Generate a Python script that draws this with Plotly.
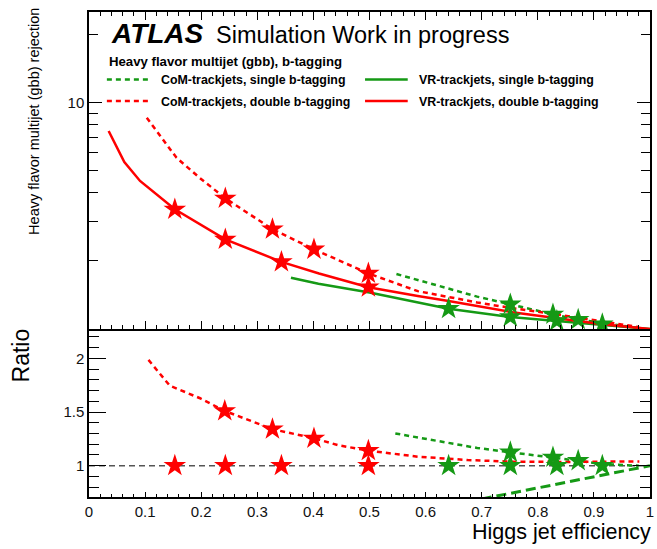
import plotly.graph_objects as go

# ---------------- data ----------------
# Top panel: rejection vs Higgs jet efficiency
vr_double_x = [0.035, 0.063, 0.091, 0.153, 0.243, 0.343, 0.41, 0.498, 0.586, 0.641, 0.751, 0.834, 0.915, 1.0]
vr_double_y = [7.5, 5.47, 4.51, 3.38, 2.49, 1.98, 1.76, 1.53, 1.40, 1.33, 1.19, 1.12, 1.05, 1.0]
com_double_x = [0.103, 0.156, 0.197, 0.243, 0.327, 0.401, 0.498, 0.586, 0.692, 0.751, 0.834, 0.915, 0.98]
com_double_y = [8.58, 5.71, 4.66, 3.78, 2.76, 2.25, 1.76, 1.47, 1.31, 1.24, 1.16, 1.08, 1.02]
vr_single_x = [0.36, 0.409, 0.5, 0.641, 0.751, 0.834, 0.915, 1.0]
vr_single_y = [1.686, 1.585, 1.45, 1.23, 1.13, 1.085, 1.05, 1.0]
com_single_x = [0.548, 0.692, 0.751, 0.827, 0.872, 0.915, 0.98]
com_single_y = [1.75, 1.39, 1.286, 1.16, 1.10, 1.06, 1.01]

# star working points (top panel)
vr_double_star_x = [0.153, 0.243, 0.343, 0.498]
vr_double_star_y = [3.38, 2.49, 1.98, 1.53]
com_double_star_x = [0.243, 0.327, 0.401, 0.498]
com_double_star_y = [3.78, 2.76, 2.25, 1.76]
vr_single_star_x = [0.641, 0.751, 0.834, 0.915]
vr_single_star_y = [1.23, 1.13, 1.085, 1.05]
com_single_star_x = [0.751, 0.827, 0.872]
com_single_star_y = [1.286, 1.16, 1.10]

# Bottom panel: ratio
ratio_double_x = [0.106, 0.144, 0.198, 0.242, 0.327, 0.401, 0.445, 0.498, 0.586, 0.675, 0.75, 0.85, 0.981]
ratio_double_y = [1.985, 1.745, 1.628, 1.51, 1.34, 1.255, 1.19, 1.14, 1.084, 1.053, 1.038, 1.035, 1.04]
ratio_single_x = [0.546, 0.692, 0.751, 0.827, 0.872, 0.915, 0.98]
ratio_single_y = [1.30, 1.165, 1.125, 1.078, 1.046, 1.015, 1.0]
ratio_extra_x = [0.70, 1.0]
ratio_extra_y = [0.69, 1.0]
unity_x = [0.0, 1.0]
unity_y = [1.0, 1.0]

ratio_double_star_x = [0.242, 0.327, 0.401, 0.498]
ratio_double_star_y = [1.51, 1.34, 1.255, 1.14]
ratio_single_star_x = [0.751, 0.827, 0.872]
ratio_single_star_y = [1.125, 1.078, 1.046]
ref_double_star_x = [0.153, 0.243, 0.343, 0.498]
ref_single_star_x = [0.641, 0.751, 0.834, 0.915]

x_tick_vals = [0, 0.1, 0.2, 0.3, 0.4, 0.5, 0.6, 0.7, 0.8, 0.9, 1]
x_tick_text = ["0", "0.1", "0.2", "0.3", "0.4", "0.5", "0.6", "0.7", "0.8", "0.9", "1"]

legend_labels = ["CoM-trackjets, single b-tagging", "CoM-trackjets, double b-tagging",
                 "VR-trackjets, single b-tagging", "VR-trackjets, double b-tagging"]

# ---------------- style ----------------
RED = "#ff0000"
GREEN = "#159915"
FONT = "Liberation Sans, Arial, Helvetica, sans-serif"
W, H = 657, 549
L, R, T, B = 89, 3, 12, 52
PW, PH = W - L - R, H - T - B
SPLIT = 329  # pixel row between the two panels


def pxx(px):
    return (px - L) / PW


def pxy(py):
    return (H - B - py) / PH


split_frac = pxy(SPLIT)

fig = go.Figure()


def line(x, y, color, dash, width, xa, ya):
    fig.add_trace(go.Scatter(x=x, y=y, mode="lines", xaxis=xa, yaxis=ya,
                             line=dict(color=color, dash=dash, width=width),
                             showlegend=False, hoverinfo="skip"))


def stars(x, y, color, xa, ya):
    fig.add_trace(go.Scatter(x=x, y=y, mode="markers", xaxis=xa, yaxis=ya,
                             marker=dict(symbol="star", size=17, color=color,
                                         line=dict(width=0)),
                             showlegend=False, hoverinfo="skip"))


DASH = "5px,4px"
# top panel
line(com_single_x, com_single_y, GREEN, DASH, 2.5, "x", "y")
line(vr_single_x, vr_single_y, GREEN, "solid", 2.5, "x", "y")
line(com_double_x, com_double_y, RED, DASH, 2.5, "x", "y")
line(vr_double_x, vr_double_y, RED, "solid", 2.5, "x", "y")
stars(vr_double_star_x, vr_double_star_y, RED, "x", "y")
stars(com_double_star_x, com_double_star_y, RED, "x", "y")
stars(vr_single_star_x, vr_single_star_y, GREEN, "x", "y")
stars(com_single_star_x, com_single_star_y, GREEN, "x", "y")

# bottom panel
line(unity_x, unity_y, "#555555", "6px,4px", 1.5, "x2", "y2")
line(ratio_extra_x, ratio_extra_y, GREEN, "10px,5px", 3, "x2", "y2")
line(ratio_single_x, ratio_single_y, GREEN, DASH, 2.5, "x2", "y2")
line(ratio_double_x, ratio_double_y, RED, DASH, 2.5, "x2", "y2")
stars(ref_double_star_x, [1.0] * len(ref_double_star_x), RED, "x2", "y2")
stars(ratio_double_star_x, ratio_double_star_y, RED, "x2", "y2")
stars(ref_single_star_x, [1.0] * len(ref_single_star_x), GREEN, "x2", "y2")
stars(ratio_single_star_x, ratio_single_star_y, GREEN, "x2", "y2")

axis_common = dict(showline=True, linecolor="black", linewidth=1.5,
                   ticks="inside", tickcolor="black", tickwidth=1.2,
                   showgrid=False, zeroline=False,
                   tickfont=dict(family=FONT, size=15, color="#111111"))

fig.update_layout(
    width=W, height=H,
    margin=dict(l=L, r=R, t=T, b=B, pad=0),
    paper_bgcolor="white", plot_bgcolor="white",
    showlegend=False,
    xaxis=dict(domain=[0, 1], range=[0, 1], anchor="y", matches="x2", mirror="ticks",
               tickvals=x_tick_vals, showticklabels=False, ticklen=8,
               minor=dict(dtick=0.02, ticklen=4, ticks="inside", tickcolor="black"),
               **axis_common),
    yaxis=dict(domain=[split_frac, 1], type="log", range=[0, (SPLIT - T) / 226.3],
               anchor="x", dtick=1, ticklen=13, labelalias={"1": " "}, mirror="ticks",
               minor=dict(dtick="D1", ticklen=9, ticks="inside", tickcolor="black"),
               **axis_common),
    xaxis2=dict(domain=[0, 1], range=[0, 1], anchor="y2", mirror=False,
                tickvals=x_tick_vals, ticktext=x_tick_text, ticklen=5,
                minor=dict(dtick=0.02, ticklen=3, ticks="inside", tickcolor="black"),
                **axis_common),
    yaxis2=dict(domain=[0, split_frac], anchor="x2", mirror="ticks",
                range=[1 - (H - B - 465.7) / 107.4, 1 + (465.7 - SPLIT) / 107.4],
                tickvals=[1, 1.5, 2], ticktext=["1", "1.5", "2"], ticklen=17,
                minor=dict(dtick=0.1, ticklen=10, ticks="inside", tickcolor="black"),
                **axis_common),
)

ann = []
ann.append(dict(text="<b><i>ATLAS</i></b>", x=pxx(109), y=pxy(34), xref="paper", yref="paper",
                xanchor="left", yanchor="middle", showarrow=False,
                font=dict(family=FONT, size=28, color="black")))
ann.append(dict(text="Simulation Work in progress", x=pxx(215), y=pxy(35), xref="paper", yref="paper",
                xanchor="left", yanchor="middle", showarrow=False,
                font=dict(family=FONT, size=23.5, color="black")))
ann.append(dict(text="<b>Heavy flavor multijet (gbb), b-tagging</b>", x=pxx(107), y=pxy(62),
                xref="paper", yref="paper", xanchor="left", yanchor="middle", showarrow=False,
                font=dict(family=FONT, size=13.2, color="black")))

legend_items = [
    (legend_labels[0], GREEN, DASH, 107, 152, 159, 79.5),
    (legend_labels[1], RED, DASH, 107, 152, 159, 101),
    (legend_labels[2], GREEN, "solid", 367, 410, 419, 79.5),
    (legend_labels[3], RED, "solid", 367, 410, 419, 101),
]
shapes = []
for text, col, dash, x0, x1, tx, ty in legend_items:
    shapes.append(dict(type="line", xref="paper", yref="paper", x0=pxx(x0), x1=pxx(x1),
                       y0=pxy(ty), y1=pxy(ty), line=dict(color=col, width=2.5, dash=dash)))
    ann.append(dict(text="<b>" + text + "</b>", x=pxx(tx), y=pxy(ty + 0.5), xref="paper", yref="paper",
                    xanchor="left", yanchor="middle", showarrow=False,
                    font=dict(family=FONT, size=12.4, color="black")))

ann.append(dict(text="Heavy flavor multijet (gbb) rejection", x=pxx(33), y=pxy(6),
                xref="paper", yref="paper", xanchor="center", yanchor="top", textangle=-90,
                showarrow=False, font=dict(family=FONT, size=14.5, color="black")))
ann.append(dict(text="Ratio", x=pxx(21), y=pxy(355), xref="paper", yref="paper",
                xanchor="center", yanchor="middle", textangle=-90, showarrow=False,
                font=dict(family=FONT, size=23, color="black")))
ann.append(dict(text="Higgs jet efficiency", x=pxx(657), y=pxy(532), xref="paper", yref="paper",
                xanchor="right", yanchor="middle", showarrow=False,
                font=dict(family=FONT, size=21.5, color="black")))

fig.update_layout(annotations=ann, shapes=shapes)
fig.write_html("out.html")
